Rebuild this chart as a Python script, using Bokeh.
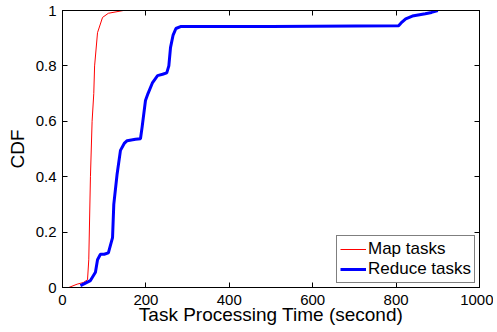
from bokeh.plotting import figure
from bokeh.models import Range1d, LinearAxis, FixedTicker, CustomJSTickFormatter, Legend, LegendItem
from bokeh.embed import file_html
from bokeh.resources import INLINE

# Data
map_time = [15, 35, 50, 60, 63, 67, 71, 75, 77, 84, 96, 110, 146]
map_cdf = [0.0, 0.012, 0.018, 0.028, 0.1, 0.4, 0.6, 0.7, 0.8, 0.92, 0.975, 0.99, 1.0]

reduce_time = [43, 67, 79, 84, 91, 100, 110, 120, 123, 131, 139, 148, 155, 175, 187,
               191, 199, 205, 216, 228, 240, 250, 255, 259, 265, 272, 283, 500, 806,
               812, 823, 839, 870, 885, 900]
reduce_cdf = [0.007, 0.025, 0.055, 0.1, 0.12, 0.12, 0.125, 0.18, 0.3, 0.41, 0.495, 0.52,
              0.53, 0.535, 0.537, 0.58, 0.675, 0.7, 0.74, 0.765, 0.77, 0.775, 0.8, 0.866,
              0.91, 0.935, 0.942, 0.942, 0.945, 0.955, 0.97, 0.98, 0.988, 0.993, 1.0]

x_ticks = [0, 200, 400, 600, 800, 1000]
y_ticks = [0, 0.2, 0.4, 0.6, 0.8, 1]

FONT = "Liberation Sans"

p = figure(frame_width=417, frame_height=277, output_backend="svg", toolbar_location=None,
           x_range=Range1d(0, 1000), y_range=Range1d(0, 1),
           min_border_left=62, min_border_right=14, min_border_top=10, min_border_bottom=2)
p.grid.visible = False
p.outline_line_color = "black"
p.outline_line_width = 1

fmt = CustomJSTickFormatter(code="return tick.toString()")
blank = CustomJSTickFormatter(code="return ''")

def style_axis(ax, ticks, labels=True):
    ax.ticker = FixedTicker(ticks=ticks)
    ax.major_tick_in = 5
    ax.major_tick_out = 0
    ax.minor_tick_in = 0
    ax.minor_tick_out = 0
    ax.axis_line_color = "black"
    ax.major_tick_line_color = "black"
    ax.major_label_text_font = FONT
    ax.major_label_text_color = "black"
    ax.axis_label_text_font = FONT
    ax.axis_label_text_font_style = "normal"
    ax.axis_label_text_color = "black"
    ax.axis_label_text_font_size = "19px"
    if labels:
        ax.formatter = fmt
        ax.major_label_text_font_size = "15px"
    else:
        ax.formatter = blank
        ax.major_label_text_font_size = "1px"
        ax.major_label_standoff = 0

style_axis(p.xaxis[0], x_ticks)
style_axis(p.yaxis[0], y_ticks)
p.xaxis[0].axis_label = "Task Processing Time (second)"
p.yaxis[0].axis_label = "CDF"
p.xaxis[0].major_label_standoff = 7
p.xaxis[0].axis_label_standoff = -4
p.yaxis[0].major_label_standoff = 6
p.yaxis[0].axis_label_standoff = 5

top = LinearAxis()
style_axis(top, x_ticks, labels=False)
p.add_layout(top, "above")
right = LinearAxis()
style_axis(right, y_ticks, labels=False)
p.add_layout(right, "right")

r_map = p.line(map_time, map_cdf, line_color="#ff0000", line_width=1)
r_red = p.line(reduce_time, reduce_cdf, line_color="#0000ff", line_width=3)

legend = Legend(items=[LegendItem(label="Map tasks", renderers=[r_map]),
                       LegendItem(label="Reduce tasks", renderers=[r_red])],
                location="bottom_right")
legend.label_text_font = FONT
legend.label_text_font_size = "17px"
legend.label_text_color = "black"
legend.glyph_width = 26
legend.glyph_height = 20
legend.label_height = 20
legend.label_standoff = 2
legend.spacing = 0
legend.padding = 3
legend.margin = 4
legend.border_line_color = "black"
legend.border_line_width = 1
legend.background_fill_color = "white"
legend.background_fill_alpha = 1
p.add_layout(legend)

open("out.html", "w").write(file_html(p, INLINE))
